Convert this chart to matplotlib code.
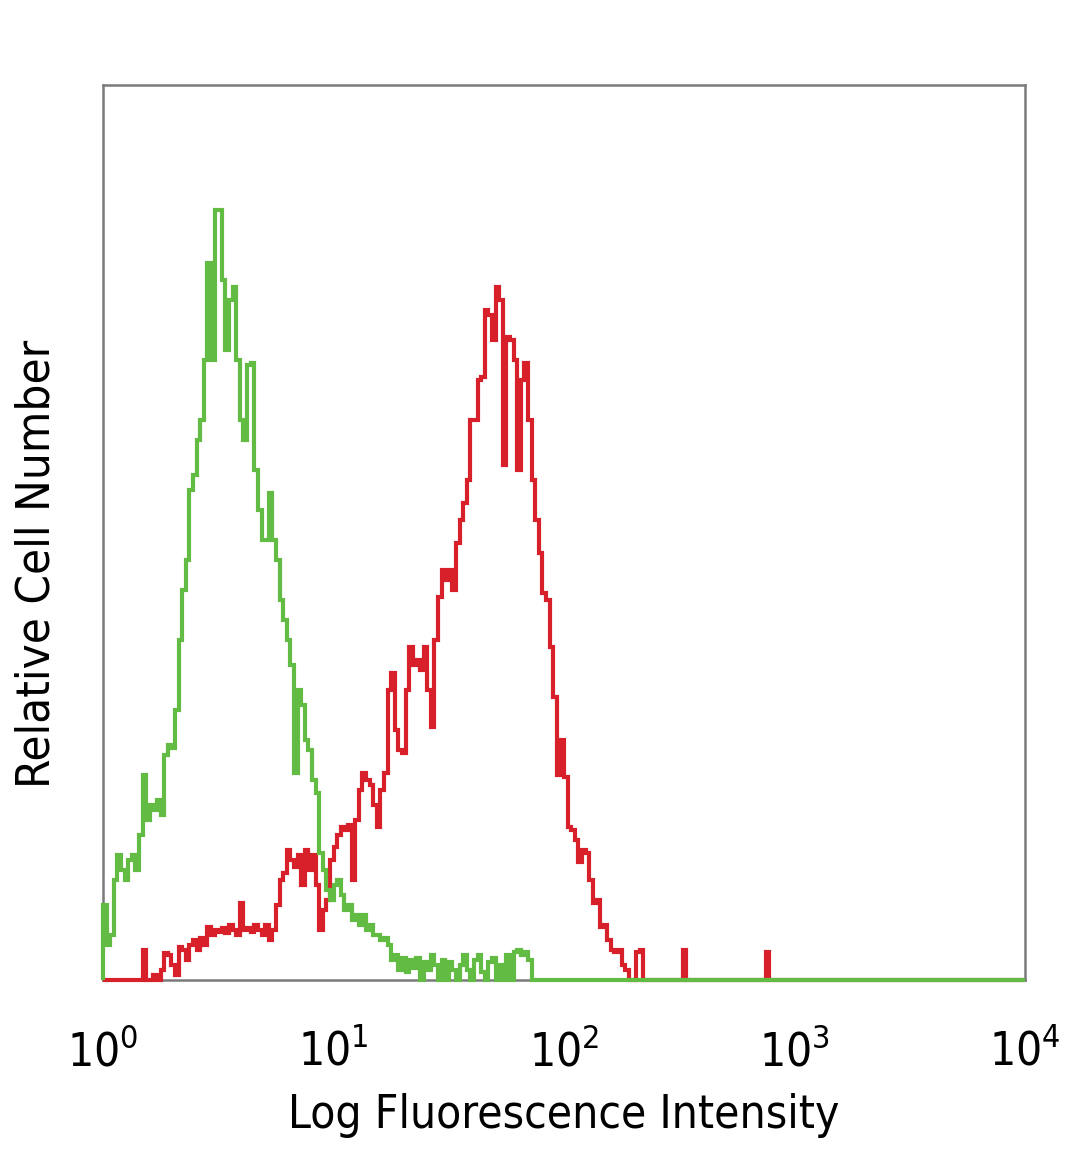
import numpy as np
import matplotlib
matplotlib.use("Agg")
import matplotlib.pyplot as plt
from matplotlib.ticker import FixedLocator, NullLocator

plt.rcParams['font.family'] = ['DejaVu Sans']
plt.rcParams['font.stretch'] = 'condensed'
plt.rcParams['mathtext.fontset'] = 'custom'
plt.rcParams['mathtext.rm'] = 'DejaVu Sans:stretch=condensed'
plt.rcParams['mathtext.it'] = 'DejaVu Sans:stretch=condensed'

# 256 channels over 4 decades
n_channels = 256
decades = 4

# isotype control (green), channels 0..119
green_counts = [
    75, 35, 45, 100, 125, 110, 100, 120, 125, 110,
    145, 205, 160, 175, 170, 180, 165, 225, 235, 232,
    270, 340, 390, 420, 490, 505, 540, 560, 620, 717,
    620, 770, 770, 700, 630, 680, 693, 620, 560, 540,
    615, 617, 510, 470, 440, 440, 487, 440, 420, 380,
    360, 340, 315, 207, 290, 275, 240, 230, 200, 187,
    127, 110, 90, 80, 95, 100, 85, 70, 75, 60,
    65, 55, 65, 50, 55, 45, 45, 40, 42, 35,
    20, 25, 10, 22, 8, 20, 12, 22, 0, 18,
    10, 25, 15, 0, 20, 0, 18, 10, 0, 15,
    25, 10, 0, 20, 25, 8, 0, 18, 22, 0,
    15, 0, 25, 0, 28, 30, 25, 28, 20, 0,
]

# stained sample (red), channels 0..184
red_counts = [
    0, 0, 0, 0, 0, 0, 0, 0, 0, 0,
    0, 30, 0, 0, 5, 0, 10, 27, 25, 15,
    5, 33, 30, 20, 35, 40, 30, 42, 35, 53,
    45, 50, 48, 52, 47, 55, 50, 45, 77, 50,
    52, 48, 55, 50, 45, 55, 40, 50, 75, 100,
    107, 130, 120, 113, 125, 95, 130, 110, 125, 95,
    50, 70, 80, 120, 133, 145, 153, 150, 155, 100,
    160, 190, 207, 200, 195, 175, 153, 190, 207, 290,
    307, 250, 230, 227, 290, 333, 315, 320, 310, 333,
    290, 253, 340, 383, 410, 400, 410, 390, 437, 460,
    477, 500, 560, 560, 600, 603, 670, 665, 640, 693,
    680, 515, 643, 640, 620, 510, 600, 617, 560, 500,
    460, 427, 387, 380, 333, 283, 205, 240, 203, 153,
    150, 140, 118, 130, 127, 100, 77, 80, 53, 55,
    40, 30, 28, 30, 15, 10, 0, 0, 28, 30,
    0, 0, 0, 0, 0, 0, 0, 0, 0, 0,
    0, 30, 0, 0, 0, 0, 0, 0, 0, 0,
    0, 0, 0, 0, 0, 0, 0, 0, 0, 0,
    0, 0, 0, 0, 28,
]

x_ticks = [1, 10, 100, 1000, 10000]
x_tick_labels = [r'$10^{0}$', r'$10^{1}$', r'$10^{2}$', r'$10^{3}$', r'$10^{4}$']

edges = 10 ** (np.arange(n_channels + 1) * decades / n_channels)
green = np.zeros(n_channels)
green[:len(green_counts)] = green_counts
red = np.zeros(n_channels)
red[:len(red_counts)] = red_counts

fig = plt.figure(figsize=(10.8, 11.69), dpi=100)
ax = fig.add_axes([0.0954, 0.1617, 0.8537, 0.7656])

ax.stairs(red, edges, color='#d8202a', lw=3.0, zorder=3, clip_on=False)
ax.stairs(green, edges, color='#62bb42', lw=3.0, zorder=3, clip_on=False)

ax.set_xscale('log')
ax.set_xlim(1, 10000)
ax.set_ylim(0, 895)
ax.xaxis.set_major_locator(FixedLocator(x_ticks))
ax.xaxis.set_minor_locator(NullLocator())
ax.set_xticklabels(x_tick_labels)
ax.yaxis.set_major_locator(NullLocator())
ax.tick_params(axis='x', length=0, pad=36, labelsize=33)

for s in ax.spines.values():
    s.set_color('#7a7a7a')
    s.set_linewidth(1.8)

ax.set_xlabel('Log Fluorescence Intensity', fontsize=33, labelpad=12)
fig.text(0.034, 0.518, 'Relative Cell Number', rotation=90, fontsize=34,
         ha='center', va='center')

fig.savefig('out.png', dpi=100, facecolor='white')
